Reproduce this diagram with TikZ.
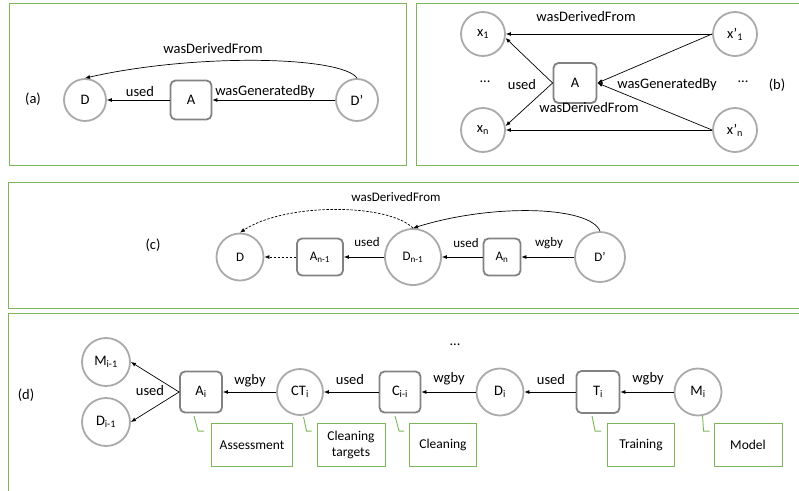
\documentclass[tikz,border=0pt]{standalone}
\usepackage{fontspec}
\setmainfont{Carlito}
\usetikzlibrary{arrows.meta}
\definecolor{panelgreen}{RGB}{125,182,88}
\definecolor{entgray}{RGB}{170,170,170}
\definecolor{actgray}{RGB}{130,130,130}
\tikzset{
  panel/.style={draw=panelgreen,line width=1pt},
  entity/.style={circle,draw=entgray,line width=1.8pt,fill=white,inner sep=0pt,minimum size=#1},
  entity/.default=44pt,
  activity/.style={rectangle,rounded corners=5pt,draw=actgray,line width=1.8pt,fill=white,inner sep=0pt,minimum width=42pt,minimum height=40pt},
  provrel/.style={-{Latex[length=5pt,width=4pt]},line width=0.7pt},
  dashrel/.style={provrel,dash pattern=on 2.5pt off 1.5pt},
  calloutbox/.style={draw=panelgreen,line width=0.9pt,minimum height=43pt,inner sep=2pt,align=center,font=\fontsize{13.5}{16}\selectfont},
  calloutline/.style={draw=panelgreen,line width=0.9pt},
  every picture/.style={font=\fontsize{14.5}{16}\selectfont}
}

\begin{document}
\begin{tikzpicture}[x=1pt,y=-1pt]
  \clip (0,0) rectangle (799,490);
  % panels
  \draw[panel] (9,3) rectangle (406,165);
  \draw[panel] (416,3) rectangle (812,165);
  \draw[panel] (8,182) rectangle (812,308);
  \draw[panel] (8,313) rectangle (812,500);

  % (a)
  \node (labela) at (33,99) {(a)};
  \node[entity=42pt] (Da) at (85,100) {D};
  \node[activity,minimum width=41pt,minimum height=39pt] (Aa) at (191,100) {A};
  \node[entity=42pt] (Dpa) at (357,100) {D’};
  \draw[provrel] (Aa) -- (Da);
  \draw[provrel] (Dpa) -- (Aa);
  \draw[provrel] (Dpa.north) .. controls +(-15,-22) and +(110,-25) .. (Da.north);
  \node (useda) at (140,92) {used};
  \node (gena) at (265,92) {wasGeneratedBy};
  \node (deriva) at (213,49) {wasDerivedFrom};

  % (b)
  \node[entity] (x1) at (483,34) {x\textsubscript{1}};
  \node[entity] (xn) at (483,130) {x\textsubscript{n}};
  \node[activity,minimum width=43pt] (Ab) at (575,83) {A};
  \node[entity] (xp1) at (735,34) {x’\textsubscript{1}};
  \node[entity] (xpn) at (735,130) {x’\textsubscript{n}};
  \draw[provrel] (xp1.west) -- (x1.east);
  \draw[provrel] (xpn.west) -- (xn.east);
  \draw[provrel] (Ab.west) -- (x1.-10);
  \draw[provrel] (Ab.west) -- (xn.10);
  \draw[provrel] (xp1.west) -- (Ab.east);
  \draw[provrel] (xpn.west) -- (Ab.east);
  \node (derivb1) at (586,17) {wasDerivedFrom};
  \node (derivb2) at (589,108) {wasDerivedFrom};
  \node (usedb) at (522,85) {used};
  \node (dotsb1) at (485,82) {...};
  \node (genb) at (667,85) {wasGeneratedBy};
  \node (dotsb2) at (743,82) {...};
  \node (labelb) at (777,85) {(b)};

  % (c)
  \node (labelc) at (153,245) {(c)};
  \begin{scope}[font=\fontsize{13}{15}\selectfont]
    \node[entity=47pt] (Dc) at (240,257) {D};
    \node[activity,minimum width=46pt,minimum height=37pt] (Anm) at (320,257) {A\textsubscript{n-1}};
    \node[entity=56pt] (Dnm) at (413,257) {D\textsubscript{n-1}};
    \node[activity,minimum width=37pt,minimum height=37pt] (An) at (502,257) {A\textsubscript{n}};
    \node[entity=50pt] (Dpc) at (600,257) {D’};
    \draw[dashrel] (Anm) -- (Dc);
    \draw[provrel] (Dnm) -- (Anm);
    \draw[provrel] (An) -- (Dnm);
    \draw[provrel] (Dpc) -- (An);
    \draw[provrel] (Dpc.north) .. controls +(-10,-25) and +(80,-25) .. (Dnm.north);
    \draw[dashrel] (Dnm.north) .. controls +(-25,-25) and +(45,-30) .. (Dc.north);
    \node (usedc1) at (367,242) {used};
    \node (usedc2) at (466,243) {used};
    \node (wgbyc) at (549,243) {wgby};
    \node (derivc) at (396,197) {wasDerivedFrom};
  \end{scope}

  % (d)
  \node (labeld) at (26,395) {(d)};
  \node[entity=48pt] (Mim) at (106,362) {M\textsubscript{i-1}};
  \node[entity=48pt] (Dim) at (106,422) {D\textsubscript{i-1}};
  \node[activity,minimum width=42pt,minimum height=41pt] (Ai) at (201,392) {A\textsubscript{i}};
  \node[entity=46pt] (CTi) at (300,392) {CT\textsubscript{i}};
  \node[activity,minimum width=41pt,minimum height=41pt] (Cii) at (400,392) {C\textsubscript{i-i}};
  \node[entity=47pt] (Di) at (500,392) {D\textsubscript{i}};
  \node[activity,minimum width=43pt,minimum height=42pt] (Ti) at (598,392) {T\textsubscript{i}};
  \node[entity=47pt] (Mi) at (698,392) {M\textsubscript{i}};
  \draw[provrel] (Ai.west) -- (Mim.east);
  \draw[provrel] (Ai.west) -- (Dim.east);
  \draw[provrel] (CTi) -- (Ai);
  \draw[provrel] (Cii) -- (CTi);
  \draw[provrel] (Di) -- (Cii);
  \draw[provrel] (Ti) -- (Di);
  \draw[provrel] (Mi) -- (Ti);
  \node (usedd1) at (150,391) {used};
  \node (wgbyd1) at (250,381) {wgby};
  \node (usedd2) at (350,380) {used};
  \node (wgbyd2) at (449,379) {wgby};
  \node (usedd3) at (551,380) {used};
  \node (wgbyd3) at (648,379) {wgby};
  \node (dotsd) at (455,345) {...};
  % notes
  \node[calloutbox,minimum width=81pt] (noteA) at (252,445) {Assessment};
  \node[calloutbox,minimum width=68pt] (noteCT) at (351,445) {Cleaning\\targets};
  \node[calloutbox,minimum width=67pt] (noteC) at (443,445) {Cleaning};
  \node[calloutbox,minimum width=67pt] (noteT) at (641,445) {Training};
  \node[calloutbox,minimum width=68pt] (noteM) at (748,445) {Model};
  \draw[calloutline] ([xshift=-17pt,yshift=7pt]noteA.north west) -- ++(4,15) -- ++(6,0);
  \draw[calloutline] ([xshift=-13pt,yshift=6pt]noteCT.north west) -- ++(3,14) -- ++(5,0);
  \draw[calloutline] ([xshift=-14pt,yshift=7pt]noteC.north west) -- ++(4,15) -- ++(5,0);
  \draw[calloutline] ([xshift=-15pt,yshift=7pt]noteT.north west) -- ++(3,15) -- ++(6,0);
  \draw[calloutline] ([xshift=-11pt,yshift=7pt]noteM.north west) -- ++(1,15) -- ++(6,0);
\end{tikzpicture}
\end{document}
